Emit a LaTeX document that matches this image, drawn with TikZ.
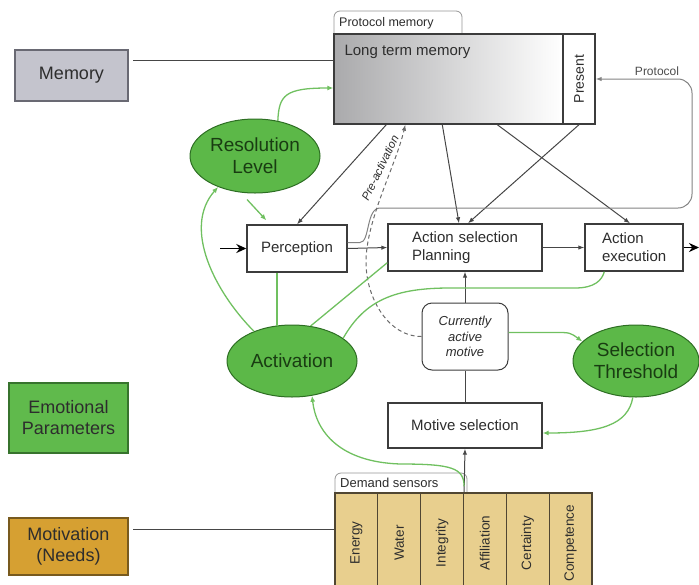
\documentclass[tikz,border=0pt]{standalone}
\usepackage{fontspec}
\setmainfont{Liberation Sans}
\usetikzlibrary{arrows.meta,shapes.geometric,calc}

\definecolor{txt}{RGB}{45,45,45}
\definecolor{boxline}{RGB}{60,60,60}
\definecolor{linegrey}{RGB}{70,70,70}
\definecolor{protogrey}{RGB}{130,130,130}
\definecolor{tabline}{RGB}{150,150,150}
\definecolor{memfill}{RGB}{196,196,205}
\definecolor{memline}{RGB}{105,105,115}
\definecolor{emobox}{RGB}{96,186,76}
\definecolor{emoboxline}{RGB}{55,115,45}
\definecolor{motfill}{RGB}{214,160,50}
\definecolor{motline}{RGB}{120,90,30}
\definecolor{demfill}{RGB}{232,207,142}
\definecolor{demline}{RGB}{80,70,50}
\definecolor{emofill}{RGB}{92,184,72}
\definecolor{emodraw}{RGB}{45,110,35}
\definecolor{emotext}{RGB}{25,60,18}
\definecolor{glinecol}{RGB}{112,192,96}
\definecolor{ltmdark}{RGB}{170,170,172}

\begin{document}
\begin{tikzpicture}[x=1pt,y=-1pt,
  every node/.style={text=txt},
  sidebox/.style={rectangle, line width=1.3pt, align=center, inner sep=0pt,
    font=\fontsize{18}{21}\selectfont},
  procbox/.style={rectangle, draw=boxline, line width=1.4pt, fill=white, inner sep=0pt,
    font=\fontsize{15}{18}\selectfont},
  emo/.style={ellipse, draw=emodraw, line width=1pt, fill=emofill, inner sep=0pt,
    align=center, font=\fontsize{19}{22}\selectfont, text=emotext},
  demcell/.style={rectangle, draw=demline, line width=1.2pt, fill=demfill, inner sep=0pt},
  celltext/.style={rotate=90, inner sep=0pt, font=\fontsize{13.5}{15}\selectfont},
  link/.style={draw=linegrey, line width=1pt, -{Latex[length=6pt,width=4.5pt]}},
  plainlink/.style={draw=linegrey, line width=1pt},
  protolink/.style={draw=protogrey, line width=1pt, -{Latex[length=6pt,width=4.5pt]}},
  dashlink/.style={draw=linegrey!80, line width=1pt, dash pattern=on 4pt off 3pt,
    -{Latex[length=6pt,width=4.5pt]}},
  glink/.style={draw=glinecol, line width=1.3pt, -{Latex[length=6pt,width=5pt]}},
  gplain/.style={draw=glinecol, line width=1.3pt},
  bigarrow/.style={draw=black, line width=1.6pt, -{Stealth[length=10pt,width=9pt]}},
  tabedge/.style={draw=tabline, line width=0.8pt, rounded corners=6pt},
  smalltext/.style={inner sep=0pt, font=\fontsize{12.5}{14}\selectfont}
]
\useasboundingbox (0,0) rectangle (699,584);

% ---- left-hand legend boxes
\node[sidebox, fill=memfill, draw=memline, minimum width=113pt, minimum height=51pt]
  (mem) at (71.5,75.5) {Memory};
\node[sidebox, fill=emobox, draw=emoboxline, minimum width=119pt, minimum height=70pt]
  (emop) at (68.5,418) {Emotional\\Parameters};
\node[sidebox, fill=motfill, draw=motline, minimum width=119pt, minimum height=57pt]
  (motiv) at (68.5,546.5) {Motivation\\(Needs)};

% ---- protocol memory
\draw[tabedge, fill=white] (334,34) -- (334,11) -- (462,11) -- (462,34);
\node[smalltext, anchor=west] (ptablabel) at (339,23) {Protocol memory};
\node[rectangle, draw=boxline, line width=1.4pt, left color=ltmdark, right color=white,
  minimum width=229pt, minimum height=90pt, inner sep=0pt] (ltm) at (448.5,79) {};
\node[anchor=north west, inner sep=0pt, font=\fontsize{15}{18}\selectfont]
  (ltmlabel) at ($(ltm.north west)+(11,12)$) {Long term memory};
\node[procbox, minimum width=32pt, minimum height=90pt] (present) at (579,79) {};
\node[rotate=90, inner sep=0pt, font=\fontsize{14}{16}\selectfont]
  (presentlabel) at (present) {Present};

% ---- processing chain
\node[procbox, minimum width=100pt, minimum height=47pt] (perc) at (297,248.5) {Perception};
\node[procbox, minimum width=154pt, minimum height=47pt, align=left, text width=106pt,
  inner xsep=24pt] (asp) at (465,247.5) {Action selection\\Planning};
\node[procbox, minimum width=98pt, minimum height=47pt, align=left, text width=64pt,
  inner xsep=17pt] (aex) at (634,247.5) {Action\\execution};
\node[procbox, rounded corners=10pt, line width=1pt, minimum width=86pt, minimum height=67pt,
  align=center, font=\fontsize{13}{15.5}\selectfont\itshape]
  (cam) at (465,336.5) {Currently\\active\\motive};
\node[procbox, minimum width=154pt, minimum height=45pt] (msel) at (465,425.5) {Motive selection};

% ---- emotional parameters
\node[emo, minimum width=130pt, minimum height=74pt] (res) at (255,156) {Resolution\\Level};
\node[emo, minimum width=130pt, minimum height=72pt] (act) at (292,361) {Activation};
\node[emo, minimum width=126pt, minimum height=72pt] (sth) at (636,361) {Selection\\Threshold};

% ---- demand sensors
\draw[tabedge, fill=white] (335,493) -- (335,473) -- (467,473) -- (467,493);
\node[smalltext, anchor=west, font=\fontsize{13}{15}\selectfont] (dtablabel) at (340,483) {Demand sensors};
\foreach \lab [count=\i] in {Energy,Water,Integrity,Affiliation,Certainty,Competence}{
  \node[demcell, minimum width=42.83pt, minimum height=100pt] (d\i) at ({335+42.83*(\i-0.5)},543) {};
  \node[celltext] (t\i) at (d\i) {\lab};
}

% ---- legend connectors
\coordinate (memline) at (133,60);
\draw[plainlink] (memline) -- (memline -| ltm.west);
\coordinate (motline) at (133,529);
\draw[plainlink] (motline) -- (motline -| d1.west);

% ---- black connectors
\coordinate (inpt) at (220,248.5);
\draw[bigarrow] (inpt) -- (perc.west);
\coordinate (outp) at (699,247.5);
\draw[bigarrow] (aex.east) -- (outp);
\draw[link] (perc.east) -- (asp.west);
\draw[link] (asp.east) -- (aex.west);
\draw[link] ($(ltm.south west)+(53,0)$) -- (perc.north);
\draw[link] ($(ltm.south west)+(109,0)$) -- ($(asp.north)+(-6,0)$);
\draw[link] (present.south) -- ($(asp.north)+(3,0)$);
\draw[link] ($(ltm.south west)+(164,0)$) -- ($(aex.north)+(-4,0)$);
\draw[link] (cam.north) -- (asp.south);
\draw[plainlink] (msel.north) -- (cam.south);
\draw[link] (d3.north east) -- (msel.south);

% protocol loop back into the present
\draw[protolink] ($(perc.east)+(0,-6)$) -- (360,242.5)
  .. controls (370,242.5) and (366,208) .. (380,208)
  [rounded corners=14pt] -- (692,208) -- (692,79) -- (present.east);
\node[anchor=south, inner sep=0pt, font=\fontsize{12}{14}\selectfont, text=black!70]
  (protolab) at (657,76) {Protocol};

% pre-activation of memory by the active motive
\draw[dashlink] (cam.west) .. controls (390,337) and (366,300) .. (366,262)
  .. controls (366,220) and (396,165) .. ($(ltm.south west)+(72,0)$);
\node[rotate=64, inner sep=0pt, font=\fontsize{11.5}{13}\selectfont\itshape]
  (prelab) at (380,168) {Pre-activation};

% ---- green modulation links
\draw[glink] (res.57) .. controls (279,95) and (285,88) .. ($(ltm.west)+(0,9)$);
\draw[glink] ($(res.south)+(-8,6)$) -- ($(perc.north west)+(20,-4)$);
\draw[glink] (act.142) .. controls (215,292) and (182,228) .. (res.220);
\draw[gplain] ($(act.north)+(-15,1)$) -- ($(perc.south)+(-20,0)$);
\draw[gplain] (act.62) -- ($(asp.south west)+(0,-9)$);
\draw[gplain] (act.24) .. controls (365,300) and (395,288) .. (450,288)
  -- (575,288) .. controls (595,288) and (602,280) .. ($(aex.south west)+(20,0)$);
\draw[glink] ($(cam.east)+(0,-4)$) -- (555,332.5) .. controls (570,332.5) .. (sth.160);
\draw[glink] (sth.265) .. controls (628,425) and (600,433) .. ($(msel.east)+(0,7.5)$);
\draw[glink] ($(d3.north east)+(0,-6)$) .. controls (464,468) and (452,464) .. (400,464)
  .. controls (340,462) and (316,432) .. (act.-60);
\end{tikzpicture}
\end{document}
